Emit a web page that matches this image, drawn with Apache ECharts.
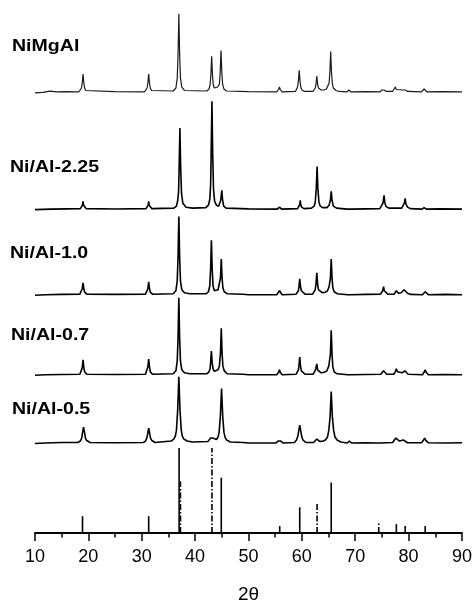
<!DOCTYPE html>
<html>
<head>
<meta charset="utf-8">
<script src="https://cdn.jsdelivr.net/npm/echarts@6/dist/echarts.min.js"></script>
<style>
  html, body { margin: 0; padding: 0; background: #fff; }
  #chart { width: 475px; height: 609px; }
</style>
</head>
<body>
<div id="chart"></div>
<script>
// sample names, top to bottom
const sampleNames = ['NiMgAl', 'Ni/Al-2.25', 'Ni/Al-1.0', 'Ni/Al-0.7', 'Ni/Al-0.5'];

// XRD patterns, [2theta, intensity a.u. above own baseline]
const nimgal = [
  [10, -1], [11.5, -0.5], [12.8, 0.8], [14, 0], [16, 0.3], [17.5, 0],
  [18.2, 0], [18.5, 1.5], [18.7, 4], [18.85, 9], [19.0, 18], [19.15, 9], [19.3, 4], [19.5, 1.5], [19.8, 0],
  [25, 0.3], [30.5, 0], [30.8, 1.5], [31.0, 4], [31.15, 9], [31.3, 18], [31.45, 9], [31.6, 4], [31.8, 1.5], [32.1, 0],
  [35.9, 1], [36.4, 4], [36.65, 14], [36.8, 38], [36.95, 79], [37.1, 38], [37.25, 14], [37.5, 5], [38.0, 1.5],
  [42.2, 1], [42.6, 3], [42.8, 7], [42.95, 17], [43.1, 36], [43.25, 17], [43.4, 7], [43.6, 4],
  [43.9, 3], [44.25, 5], [44.55, 8], [44.7, 20], [44.85, 42], [45.0, 20], [45.15, 8], [45.4, 3], [45.9, 1],
  [50, 0.3], [55.3, 0], [55.65, 2.5], [55.8, 5], [55.95, 2.5], [56.3, 0],
  [58.8, 0.5], [59.05, 2], [59.2, 5], [59.35, 11], [59.5, 22], [59.65, 11], [59.8, 5], [60.0, 2], [60.5, 0.5],
  [62.1, 0.5], [62.35, 2], [62.5, 4], [62.65, 8], [62.8, 16], [62.95, 8], [63.1, 4], [63.3, 2.5],
  [63.6, 2], [64.1, 2], [64.6, 3], [64.9, 5], [65.1, 9], [65.25, 20], [65.4, 41], [65.55, 20], [65.7, 9], [65.9, 4], [66.4, 1.5], [67, 0.5],
  [68.4, 0], [68.8, 2], [69.2, 0], [72, 0.3],
  [74.6, 0], [75.0, 2], [75.2, 4], [75.4, 2], [75.8, 0.5],
  [77.0, 0.5], [77.3, 2.5], [77.5, 5], [77.7, 2.5], [78.0, 1.5],
  [78.9, 2], [79.2, 4], [79.4, 2], [79.8, 0.5],
  [82.4, 0], [82.7, 1.5], [82.9, 3], [83.1, 1.5], [83.5, 0], [86, 0.3], [90, 0]
];

const niAl225 = [
  [10, -0.5], [13, 0], [16, 0.3],
  [18.5, 0.5], [18.8, 2], [18.9, 4], [19.0, 8], [19.1, 4], [19.25, 2], [19.6, 0.5],
  [25, 0.2], [30.8, 0.5], [31.1, 2], [31.2, 4], [31.3, 8], [31.4, 4], [31.55, 2], [31.9, 0.5],
  [36.0, 1], [36.5, 3], [36.75, 9], [36.9, 18], [37.0, 40], [37.15, 82], [37.3, 40], [37.45, 16], [37.7, 6], [38.3, 2], [39.5, 1],
  [42.0, 1.5], [42.5, 4], [42.75, 10], [42.9, 24], [43.0, 54], [43.15, 109], [43.3, 54], [43.45, 20], [43.65, 8], [44.0, 4], [44.4, 3],
  [44.6, 4], [44.8, 9], [45.0, 19], [45.15, 9], [45.35, 3], [45.8, 1],
  [50, 0.3], [55.4, 0], [55.8, 2], [56.2, 0],
  [59.2, 0.5], [59.5, 2.5], [59.6, 4.5], [59.7, 9], [59.8, 4.5], [59.95, 2], [60.4, 0.5],
  [61.8, 1], [62.3, 3], [62.5, 7], [62.7, 21], [62.85, 43], [63.0, 21], [63.2, 7], [63.45, 3], [63.9, 1.5],
  [64.7, 1.5], [65.1, 4], [65.35, 9], [65.5, 18], [65.65, 9], [65.9, 3], [66.5, 1],
  [68.5, 0], [68.8, 1], [69.1, 0], [72, 0.3],
  [74.6, 0.5], [74.95, 2.5], [75.2, 6], [75.4, 14], [75.55, 6], [75.8, 2.5], [76.3, 1],
  [77.6, 1], [77.9, 2.5], [78.2, 1],
  [78.7, 1], [79.0, 3], [79.2, 6], [79.35, 11], [79.5, 5], [79.8, 2], [80.3, 0.5],
  [82.5, 0], [82.9, 1.5], [83.3, 0], [86, 0.3], [90, 0]
];

const niAl10 = [
  [10, -0.5], [12, 0], [15, 0.3],
  [18.4, 0.5], [18.7, 2], [18.85, 6], [19.0, 12], [19.15, 6], [19.3, 2.5], [19.7, 0.5],
  [25, 0.3], [30.7, 0.5], [31.0, 2], [31.15, 6], [31.3, 13], [31.45, 6], [31.6, 2.5], [32.0, 0.5],
  [35.9, 1], [36.4, 4], [36.65, 14], [36.8, 38], [36.95, 79], [37.1, 38], [37.25, 14], [37.5, 5], [38.0, 2], [39, 1],
  [42.1, 1], [42.5, 3], [42.75, 9], [42.9, 26], [43.05, 55], [43.2, 26], [43.35, 9], [43.6, 4],
  [43.95, 3], [44.3, 5], [44.6, 7], [44.75, 17], [44.9, 36], [45.05, 17], [45.2, 7], [45.45, 3], [46, 1],
  [49, 0.5], [50, 0], [55.3, 0], [55.65, 2], [55.8, 4], [55.95, 2], [56.3, 0],
  [58.9, 0.5], [59.2, 2], [59.35, 4], [59.45, 8], [59.6, 16], [59.75, 8], [59.9, 4], [60.1, 2], [60.6, 0.5],
  [62.0, 0.5], [62.3, 2], [62.5, 5], [62.65, 11], [62.8, 22], [62.95, 11], [63.1, 5], [63.3, 3],
  [63.8, 2], [64.4, 2.5], [64.8, 4], [65.1, 8], [65.35, 17], [65.5, 36], [65.65, 17], [65.8, 7], [66.05, 3], [66.6, 1],
  [68.6, 0], [68.9, 1], [69.2, 0], [72, 0.3],
  [74.7, 0.5], [75.0, 2], [75.15, 4], [75.3, 8], [75.45, 4], [75.65, 2], [76.1, 0.5],
  [77.3, 0.5], [77.55, 2], [77.7, 4], [77.85, 2], [78.1, 1.5],
  [78.6, 2], [78.9, 3], [79.15, 5], [79.3, 7], [79.45, 4], [79.8, 1.5], [80.4, 0.3],
  [82.6, 0], [82.9, 1.5], [83.1, 3], [83.3, 1.5], [83.7, 0], [87, 0.3], [90, 0]
];

const niAl07 = [
  [10, -0.5], [12, 0], [15, 0.3],
  [18.4, 0.5], [18.7, 2.5], [18.85, 7], [19.0, 15], [19.15, 7], [19.3, 3], [19.7, 0.5],
  [25, 0.3], [30.7, 0.5], [31.0, 2.5], [31.15, 8], [31.3, 16], [31.45, 8], [31.6, 3], [32.0, 0.5],
  [35.9, 1], [36.4, 4], [36.65, 14], [36.8, 37], [36.95, 78], [37.1, 37], [37.25, 14], [37.5, 5], [38.0, 2], [39, 1],
  [42.2, 1], [42.6, 3], [42.8, 6], [42.9, 12], [43.05, 24], [43.2, 12], [43.35, 6], [43.6, 3.5],
  [43.95, 3], [44.3, 5], [44.55, 9], [44.75, 22], [44.9, 47], [45.05, 22], [45.2, 9], [45.45, 4], [46, 1],
  [49, 0.5], [50, 0], [55.3, 0], [55.65, 2.5], [55.8, 5], [55.95, 2.5], [56.3, 0],
  [58.9, 0.5], [59.2, 2], [59.35, 5], [59.45, 9], [59.6, 18], [59.75, 9], [59.9, 4], [60.1, 2], [60.6, 0.5],
  [62.1, 0.5], [62.35, 2], [62.55, 5], [62.8, 11], [62.95, 5], [63.15, 3],
  [63.6, 2], [64.2, 2.5], [64.7, 4], [65.05, 9], [65.35, 21], [65.5, 45], [65.65, 21], [65.8, 8], [66.05, 3], [66.6, 1],
  [68.6, 0], [68.9, 1], [69.2, 0], [72, 0.3],
  [74.8, 0.5], [75.1, 2], [75.3, 4], [75.5, 2], [75.9, 0.5],
  [77.2, 0.5], [77.5, 3], [77.7, 6], [77.9, 3], [78.2, 1.5],
  [78.8, 2], [79.1, 3], [79.3, 4], [79.5, 2], [79.9, 0.5],
  [82.6, 0], [82.9, 2.5], [83.1, 5], [83.3, 2.5], [83.7, 0], [87, 0.3], [90, 0]
];

const niAl05 = [
  [10, -0.5], [12, 0], [15, 0.5],
  [18.0, 0.5], [18.5, 2], [18.75, 5], [18.9, 10], [19.1, 16], [19.3, 10], [19.45, 5], [19.7, 2.5], [20.3, 0.5],
  [25, 0.3], [30.3, 0.5], [30.7, 2], [30.95, 5], [31.1, 9], [31.3, 15], [31.5, 9], [31.65, 5], [31.9, 2.5], [32.5, 0.5],
  [35.5, 2], [36.0, 4], [36.3, 7], [36.5, 13], [36.73, 33], [36.95, 67], [37.17, 33], [37.4, 13], [37.6, 7], [37.9, 4], [38.5, 2], [39.5, 1],
  [42.4, 1.5], [42.75, 3], [42.9, 5], [43.1, 7], [43.3, 5], [43.5, 3.5],
  [44.0, 3.5], [44.3, 6], [44.5, 11], [44.73, 27], [44.95, 55], [45.17, 27], [45.4, 11], [45.6, 6], [45.9, 3], [46.6, 1],
  [49, 0.5], [50, 0], [55.1, 0], [55.55, 2], [55.8, 4], [56.05, 2], [56.5, 0],
  [58.6, 0.5], [59.0, 3], [59.25, 7], [59.4, 12], [59.6, 18], [59.8, 12], [59.95, 7], [60.2, 3], [60.8, 0.5],
  [62.2, 0.5], [62.55, 2], [62.8, 4], [63.05, 2], [63.4, 1.5],
  [64.0, 2], [64.4, 3], [64.8, 6], [65.05, 13], [65.28, 26], [65.5, 52], [65.72, 26], [65.95, 13], [66.2, 6], [66.6, 3], [67.3, 1],
  [68.5, 0], [68.9, 2], [69.3, 0], [72, 0.3],
  [74.2, 0], [74.5, 1], [74.8, 0],
  [77.0, 0.5], [77.35, 2.5], [77.6, 5], [77.85, 3], [78.3, 2],
  [78.6, 2], [79.0, 3], [79.3, 1.5], [79.8, 0.3],
  [82.4, 0.3], [82.75, 2.5], [83.0, 5], [83.25, 2.5], [83.7, 0.3], [87, 0], [90, 0.3]
];

// reference stick patterns [2theta, relative intensity]
const spinelSticks = [
  [18.9, 17], [31.3, 17], [37.0, 86], [44.9, 56], [55.85, 7], [59.6, 26],
  [65.5, 51], [68.9, 1], [77.7, 9], [79.35, 7], [83.1, 7]
];
const nioSticks = [
  [37.25, 52], [43.15, 86], [62.85, 30], [74.4, 11]
];

const xTicks = { min: 10, max: 90, interval: 10 };

const patterns = [nimgal, niAl225, niAl10, niAl07, niAl05];
// vertical stacking of the patterns (axis units)
const stackOffsets = [446, 327.5, 241, 160, 91];
const labelY = [46, 167, 253, 335, 409];
const labelX = [12, 10, 10, 11, 12];

const chart = echarts.init(document.getElementById('chart'), null, { renderer: 'canvas' });

const stickSeries = (data, dash) => ({
  type: 'custom',
  data: data,
  encode: { x: 0, y: 1 },
  silent: true,
  renderItem: (params, api) => {
    const p0 = api.coord([api.value(0), 0]);
    const p1 = api.coord([api.value(0), api.value(1)]);
    return {
      type: 'line',
      shape: { x1: p0[0], y1: p0[1], x2: p1[0], y2: p1[1] },
      style: { stroke: '#000', lineWidth: 1.6, lineDash: dash }
    };
  }
});

const option = {
  animation: false,
  backgroundColor: '#fff',
  grid: { left: 35, right: 12, top: 0, bottom: 70 },
  xAxis: {
    type: 'value',
    min: xTicks.min,
    max: xTicks.max,
    interval: xTicks.interval,
    name: '2θ',
    nameLocation: 'middle',
    nameGap: 52,
    nameTextStyle: { fontFamily: 'Liberation Sans', fontSize: 19, color: '#000' },
    axisLine: { lineStyle: { color: '#000', width: 1.8 } },
    axisTick: { length: 8, lineStyle: { color: '#000', width: 1.5 } },
    minorTick: { show: true, splitNumber: 2, length: 4.5, lineStyle: { color: '#000', width: 1.5 } },
    splitLine: { show: false },
    axisLabel: { fontFamily: 'Liberation Sans', fontSize: 18, color: '#000', margin: 15 }
  },
  yAxis: { type: 'value', min: 0, max: 539, show: false },
  graphic: sampleNames.map((name, i) => ({
    type: 'text',
    x: labelX[i],
    y: labelY[i],
    scaleX: 1.15,
    style: {
      text: name,
      font: 'bold 17px "Liberation Sans", Arial, sans-serif',
      fill: '#000',
      verticalAlign: 'middle',
      textVerticalAlign: 'middle'
    }
  })),
  series: patterns.map((pts, i) => ({
    type: 'line',
    name: sampleNames[i],
    data: pts.map(([x, v]) => [x, v + stackOffsets[i]]),
    showSymbol: false,
    symbol: 'none',
    smooth: false,
    lineStyle: { color: i === 0 ? '#1a1a1a' : '#000', width: i === 0 ? 1.2 : 1.6 },
    silent: true
  })).concat([
    stickSeries(spinelSticks, null),
    stickSeries(nioSticks, [6, 2, 1.5, 2])
  ])
};

chart.setOption(option);
</script>
</body>
</html>
